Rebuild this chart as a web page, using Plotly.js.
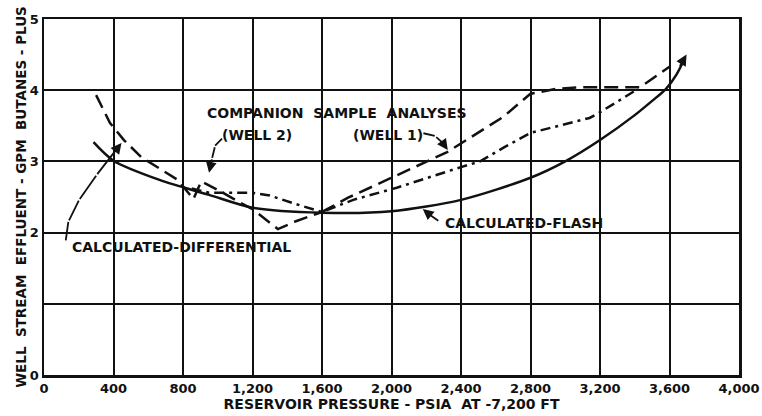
<!DOCTYPE html>
<html>
<head>
<meta charset="utf-8">
<script src="https://cdn.plot.ly/plotly-3.0.1.min.js"></script>
<style>html,body{margin:0;padding:0;background:#fff;}</style>
</head>
<body>
<div id="chart" style="width:762px;height:416px;"></div>
<script>
// ---- data ----
const xTickVals = [0, 400, 800, 1200, 1600, 2000, 2400, 2800, 3200, 3600, 4000];
const xTickText = ['0', '400', '800', '1,200', '1,600', '2,000', '2,400', '2,800', '3,200', '3,600', '4,000'];
const yTickVals = [0, 1, 2, 3, 4, 5];
const yTickText = ['0', '', '2', '3', '4', '5'];

// Calculated - flash (solid)
const flashP = [285, 400, 665, 950, 1200, 1600, 2000, 2400, 2800, 3000, 3200, 3400, 3500, 3580, 3640, 3690];
const flashG = [3.27, 3.01, 2.74, 2.53, 2.35, 2.28, 2.30, 2.46, 2.77, 3.00, 3.30, 3.65, 3.85, 4.02, 4.22, 4.46];

// Companion sample analyses - Well 1 (long dash)
const well1P = [1600, 1750, 2000, 2320, 2640, 2800, 2950, 3070, 3430, 3600];
const well1G = [2.29, 2.49, 2.77, 3.13, 3.62, 3.95, 4.02, 4.04, 4.04, 4.33];

// Companion sample analyses - dash-dot curve
const dotP = [850, 950, 1200, 1300, 1450, 1600, 1780, 2030, 2400, 2510, 2650, 2800, 3140, 3200, 3420];
const dotG = [2.62, 2.56, 2.56, 2.52, 2.40, 2.29, 2.46, 2.63, 2.92, 3.00, 3.20, 3.40, 3.61, 3.69, 4.02];

// Companion sample analyses - Well 2 (dashed)
const well2P = [300, 380, 460, 560, 770, 860, 905, 1000, 1130, 1200, 1346, 1450, 1600];
const well2G = [3.93, 3.54, 3.30, 3.06, 2.74, 2.47, 2.72, 2.60, 2.42, 2.33, 2.05, 2.16, 2.29];

// ---- styling / labels ----
const FONT = 'DejaVu Sans, Arial, sans-serif';
const INK = '#111';

const traces = [
  {x: flashP, y: flashG, mode: 'lines', line: {color: INK, width: 2.5, shape: 'spline', smoothing: 0.8}, hoverinfo: 'skip'},
  {x: well1P, y: well1G, mode: 'lines', line: {color: INK, width: 2.5, dash: '14px,7px'}, hoverinfo: 'skip'},
  {x: dotP, y: dotG, mode: 'lines', line: {color: INK, width: 2.5, dash: '10px,5px,3px,5px'}, hoverinfo: 'skip'},
  {x: well2P, y: well2G, mode: 'lines', line: {color: INK, width: 2.5, dash: '14px,7px'}, hoverinfo: 'skip'}
];

function label(text, x, y) {
  return {text: text, x: x, y: y, xref: 'x', yref: 'y', showarrow: false,
          font: {family: FONT, size: 14, color: INK, weight: 'bold'}};
}
// leader line segments: [tailX, tailY, tipX, tipY, withHead]
const leaders = [
  [124, 1.87, 140, 2.15, false], [140, 2.15, 200, 2.45, false], [200, 2.45, 300, 2.80, false], [300, 2.80, 446, 3.26, true],
  [1033, 3.34, 985, 3.22, false], [985, 3.22, 968, 3.05, false], [968, 3.05, 950, 2.84, true],
  [2175, 3.40, 2249, 3.36, false], [2249, 3.36, 2295, 3.26, false], [2295, 3.26, 2324, 3.16, true],
  [2278, 2.15, 2220, 2.25, false], [2220, 2.25, 2180, 2.33, true],
  [3655, 4.32, 3698, 4.50, true]
];
const annotations = [
  label('COMPANION  SAMPLE  ANALYSES', 1685, 3.68),
  label('(WELL 2)', 1224, 3.37),
  label('(WELL 1)', 1978, 3.37),
  label('CALCULATED-FLASH', 2761, 2.13),
  label('CALCULATED-DIFFERENTIAL', 792, 1.80)
];
leaders.forEach(function (s) {
  annotations.push({x: s[2], y: s[3], ax: s[0], ay: s[1], xref: 'x', yref: 'y', axref: 'x', ayref: 'y',
    text: '', showarrow: true, arrowhead: s[4] ? 2 : 0, arrowsize: 1.2, arrowwidth: 1.8, arrowcolor: INK,
    standoff: 0, startstandoff: 0});
});

const axisCommon = {
  showgrid: true, gridcolor: INK, gridwidth: 2,
  showline: true, linecolor: INK, linewidth: 2.5, mirror: true,
  zeroline: false, ticks: '', fixedrange: true,
  tickfont: {family: FONT, size: 13, color: INK, weight: 'bold'}
};

const layout = {
  width: 762, height: 416,
  margin: {l: 44, r: 23, t: 19, b: 41},
  paper_bgcolor: '#fff', plot_bgcolor: '#fff',
  showlegend: false,
  xaxis: Object.assign({}, axisCommon, {
    range: [0, 4000], tickmode: 'array', tickvals: xTickVals, ticktext: xTickText,
    title: {text: 'RESERVOIR PRESSURE - PSIA  AT -7,200 FT', standoff: 4,
            font: {family: FONT, size: 14, color: INK, weight: 'bold'}}
  }),
  yaxis: Object.assign({}, axisCommon, {
    range: [0, 5], tickmode: 'array', tickvals: yTickVals, ticktext: yTickText,
    title: {text: 'WELL  STREAM  EFFLUENT - GPM  BUTANES - PLUS', standoff: 0,
            font: {family: FONT, size: 13.5, color: INK, weight: 'bold'}}
  }),
  annotations: annotations
};

Plotly.newPlot('chart', traces, layout, {staticPlot: true, displayModeBar: false});
</script>
</body>
</html>
